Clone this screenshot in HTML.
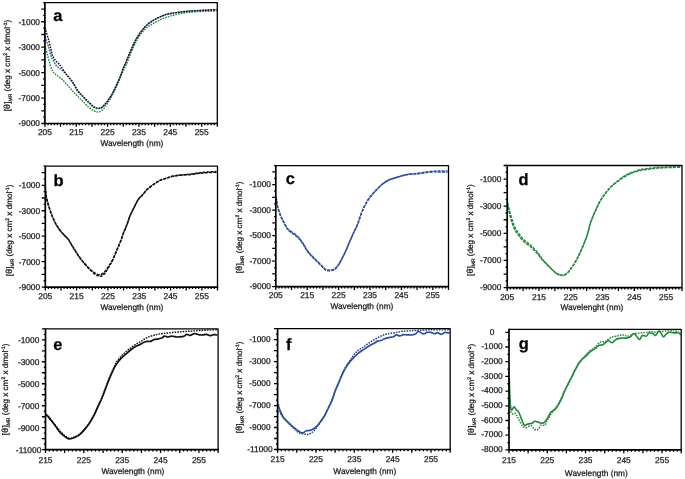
<!DOCTYPE html>
<html><head><meta charset="utf-8"><style>
html,body{margin:0;padding:0;background:#fff;}
body{width:685px;height:479px;overflow:hidden;}
svg{display:block;filter:blur(0.3px);}
.t{font-family:"Liberation Sans", sans-serif;font-size:8.4px;fill:#1a1a1a;stroke:#1a1a1a;stroke-width:0.25px;}
.tt{font-size:8.3px;}
.yt{font-size:8.15px;}
svg text{text-rendering:geometricPrecision;}
.sub{font-size:5px;}
.th{font-size:8.8px;}
.sup{font-size:5px;}
.lt{font-family:"Liberation Sans", sans-serif;font-size:16.4px;font-weight:bold;fill:#000;stroke:#000;stroke-width:0.25px;}
</style></head><body>
<svg width="685" height="479" viewBox="0 0 685 479">
<rect width="685" height="479" fill="#fff"/>
<clipPath id="clipa"><rect x="43.9" y="1.7" width="174.4" height="122.8"/></clipPath>
<path clip-path="url(#clipa)" d="M45.3 46C45.4 46.47 45.48 47.08 45.9 48.8C46.32 50.52 47.07 53.58 47.8 56.3C48.53 59.02 49.47 62.58 50.3 65.1C51.13 67.62 51.77 69.73 52.8 71.4C53.83 73.07 55.05 73.85 56.5 75.1C57.95 76.35 60.25 77.87 61.5 78.9C62.75 79.93 62.75 79.97 64 81.3C65.25 82.63 67.33 85.02 69 86.9C70.67 88.78 72.33 90.82 74 92.6C75.67 94.38 77.33 95.93 79 97.6C80.67 99.27 82.33 100.93 84 102.6C85.67 104.27 87.33 106.25 89 107.6C90.67 108.95 92.53 109.97 94 110.7C95.47 111.43 96.53 112 97.8 112C99.07 112 100.33 111.63 101.6 110.7C102.87 109.77 103.93 108.38 105.4 106.4C106.87 104.42 108.73 101.73 110.4 98.8C112.07 95.87 113.95 91.93 115.4 88.8C116.85 85.67 117.85 82.92 119.1 80C120.35 77.08 121.7 73.88 122.9 71.3C124.1 68.72 124.48 68.65 126.3 64.5C128.12 60.35 131.5 51.32 133.8 46.4C136.1 41.48 137.8 38.25 140.1 35C142.4 31.75 145.1 28.98 147.6 26.9C150.1 24.82 152.6 23.85 155.1 22.5C157.6 21.15 160.2 19.83 162.6 18.8C165 17.77 167.43 16.97 169.5 16.3C171.57 15.63 172.42 15.38 175 14.8C177.58 14.22 181.23 13.33 185 12.8C188.77 12.27 192.35 11.9 197.6 11.6C202.85 11.3 213.35 11.1 216.5 11" fill="none" stroke="#23873f" stroke-width="1.45" stroke-linejoin="round" stroke-linecap="butt" stroke-dasharray="1.6 1.1"/>
<path clip-path="url(#clipa)" d="M45.3 37C45.4 37.42 45.38 37.95 45.9 39.5C46.42 41.05 47.5 43.4 48.4 46.3C49.3 49.2 50.4 54.4 51.3 56.9C52.2 59.4 52.97 59.85 53.8 61.3C54.63 62.75 55.37 64.47 56.3 65.6C57.23 66.73 58.37 67.25 59.4 68.1C60.43 68.95 61.57 69.88 62.5 70.7C63.43 71.52 64.05 71.98 65 73C65.95 74.02 67.15 75.53 68.2 76.8C69.25 78.07 70.37 79.33 71.3 80.6C72.23 81.87 72.9 82.9 73.8 84.4C74.7 85.9 75.67 88 76.7 89.6C77.73 91.2 78.88 92.72 80 94C81.12 95.28 82.28 96.18 83.4 97.3C84.52 98.42 85.58 99.58 86.7 100.7C87.82 101.82 88.98 102.95 90.1 104C91.22 105.05 92.42 106.28 93.4 107C94.38 107.72 95.05 108.05 96 108.3C96.95 108.55 98.17 108.62 99.1 108.5C100.03 108.38 100.55 108.38 101.6 107.6C102.65 106.82 104.15 105.27 105.4 103.8C106.65 102.33 107.85 100.67 109.1 98.8C110.35 96.93 111.65 94.9 112.9 92.6C114.15 90.3 115.35 87.72 116.6 85C117.85 82.28 119.25 79.22 120.4 76.3C121.55 73.38 122.73 69.47 123.5 67.5C124.27 65.53 124.12 66.57 125 64.5C125.88 62.43 127.53 58.12 128.8 55.1C130.07 52.08 131.35 49.12 132.6 46.4C133.85 43.68 134.85 41.32 136.3 38.8C137.75 36.28 139.42 33.7 141.3 31.3C143.18 28.9 145.5 26.28 147.6 24.4C149.7 22.52 151.82 21.25 153.9 20C155.98 18.75 158.03 17.83 160.1 16.9C162.17 15.97 164.23 15.02 166.3 14.4C168.37 13.78 170.42 13.55 172.5 13.2C174.58 12.85 176.7 12.58 178.8 12.3C180.9 12.02 183.02 11.72 185.1 11.5C187.18 11.28 189.22 11.15 191.3 11C193.38 10.85 195.5 10.72 197.6 10.6C199.7 10.48 201.82 10.4 203.9 10.3C205.98 10.2 208 10.12 210.1 10C212.2 9.88 215.43 9.67 216.5 9.6" fill="none" stroke="#2f4f9c" stroke-width="1.45" stroke-linejoin="round" stroke-linecap="butt" stroke-dasharray="1.6 1.1"/>
<path clip-path="url(#clipa)" d="M45.3 28C45.42 28.5 45.38 28.78 46 31C46.62 33.22 48.17 38.22 49 41.3C49.83 44.38 50.42 47.12 51 49.5C51.58 51.88 51.73 53.75 52.5 55.6C53.27 57.45 54.55 59.23 55.6 60.6C56.65 61.97 57.85 62.75 58.8 63.8C59.75 64.85 60.27 65.45 61.3 66.9C62.33 68.35 63.85 70.93 65 72.5C66.15 74.07 67.15 75.05 68.2 76.3C69.25 77.55 70.37 78.75 71.3 80C72.23 81.25 72.9 82.3 73.8 83.8C74.7 85.3 75.67 87.4 76.7 89C77.73 90.6 78.88 92.12 80 93.4C81.12 94.68 82.28 95.58 83.4 96.7C84.52 97.82 85.58 98.98 86.7 100.1C87.82 101.22 88.98 102.35 90.1 103.4C91.22 104.45 92.42 105.67 93.4 106.4C94.38 107.13 95.05 107.5 96 107.8C96.95 108.1 98.17 108.23 99.1 108.2C100.03 108.17 100.55 108.33 101.6 107.6C102.65 106.87 104.15 105.27 105.4 103.8C106.65 102.33 107.85 100.67 109.1 98.8C110.35 96.93 111.65 94.9 112.9 92.6C114.15 90.3 115.35 87.72 116.6 85C117.85 82.28 119.25 79.22 120.4 76.3C121.55 73.38 122.73 69.47 123.5 67.5C124.27 65.53 124.12 66.57 125 64.5C125.88 62.43 127.53 58.12 128.8 55.1C130.07 52.08 131.35 49.12 132.6 46.4C133.85 43.68 134.85 41.32 136.3 38.8C137.75 36.28 139.42 33.7 141.3 31.3C143.18 28.9 145.5 26.28 147.6 24.4C149.7 22.52 151.82 21.25 153.9 20C155.98 18.75 158.03 17.83 160.1 16.9C162.17 15.97 164.23 15.02 166.3 14.4C168.37 13.78 170.42 13.55 172.5 13.2C174.58 12.85 176.7 12.58 178.8 12.3C180.9 12.02 183.02 11.72 185.1 11.5C187.18 11.28 189.22 11.15 191.3 11C193.38 10.85 195.5 10.72 197.6 10.6C199.7 10.48 201.82 10.4 203.9 10.3C205.98 10.2 208 10.08 210.1 10C212.2 9.92 215.43 9.83 216.5 9.8" fill="none" stroke="#111" stroke-width="1.45" stroke-linejoin="round" stroke-linecap="butt" stroke-dasharray="1.6 1.1"/>
<path d="M44.9 2.7H217.3V123.5" fill="none" stroke="#000" stroke-width="1.3" stroke-linejoin="round"/>
<path d="M44.9 2.05V123.5H217.95" fill="none" stroke="#000" stroke-width="1.7"/>
<path d="M43.2 2.7H44.9M41.3 9.06H44.9M43.2 15.42H44.9M41.3 21.77H44.9M43.2 28.13H44.9M41.3 34.49H44.9M43.2 40.85H44.9M41.3 47.21H44.9M43.2 53.56H44.9M41.3 59.92H44.9M43.2 66.28H44.9M41.3 72.64H44.9M43.2 78.99H44.9M41.3 85.35H44.9M43.2 91.71H44.9M41.3 98.07H44.9M43.2 104.43H44.9M41.3 110.78H44.9M43.2 117.14H44.9M41.3 123.5H44.9M44.9 123.5V126.8M48.03 123.5V125.3M51.17 123.5V125.3M54.3 123.5V125.3M57.44 123.5V125.3M60.57 123.5V126.8M63.71 123.5V125.3M66.84 123.5V125.3M69.98 123.5V125.3M73.11 123.5V125.3M76.25 123.5V126.8M79.38 123.5V125.3M82.51 123.5V125.3M85.65 123.5V125.3M88.78 123.5V125.3M91.92 123.5V126.8M95.05 123.5V125.3M98.19 123.5V125.3M101.32 123.5V125.3M104.46 123.5V125.3M107.59 123.5V126.8M110.73 123.5V125.3M113.86 123.5V125.3M116.99 123.5V125.3M120.13 123.5V125.3M123.26 123.5V126.8M126.4 123.5V125.3M129.53 123.5V125.3M132.67 123.5V125.3M135.8 123.5V125.3M138.94 123.5V126.8M142.07 123.5V125.3M145.21 123.5V125.3M148.34 123.5V125.3M151.47 123.5V125.3M154.61 123.5V126.8M157.74 123.5V125.3M160.88 123.5V125.3M164.01 123.5V125.3M167.15 123.5V125.3M170.28 123.5V126.8M173.42 123.5V125.3M176.55 123.5V125.3M179.69 123.5V125.3M182.82 123.5V125.3M185.95 123.5V126.8M189.09 123.5V125.3M192.22 123.5V125.3M195.36 123.5V125.3M198.49 123.5V125.3M201.63 123.5V126.8M204.76 123.5V125.3M207.9 123.5V125.3M211.03 123.5V125.3M214.17 123.5V125.3M217.3 123.5V126.8" stroke="#000" stroke-width="1.3" fill="none"/>
<text x="29.3" y="24.67" text-anchor="middle" class="t">-1000</text>
<text x="29.3" y="50.11" text-anchor="middle" class="t">-3000</text>
<text x="29.3" y="75.54" text-anchor="middle" class="t">-5000</text>
<text x="29.3" y="100.97" text-anchor="middle" class="t">-7000</text>
<text x="29.3" y="126.4" text-anchor="middle" class="t">-9000</text>
<text x="44.9" y="135" text-anchor="middle" class="t">205</text>
<text x="76.25" y="135" text-anchor="middle" class="t">215</text>
<text x="107.59" y="135" text-anchor="middle" class="t">225</text>
<text x="138.94" y="135" text-anchor="middle" class="t">235</text>
<text x="170.28" y="135" text-anchor="middle" class="t">245</text>
<text x="201.63" y="135" text-anchor="middle" class="t">255</text>
<text x="131.9" y="146.4" text-anchor="middle" class="t tt">Wavelength (nm)</text>
<text transform="translate(9.6 65.5) rotate(-90)" text-anchor="middle" class="t yt">[<tspan class="th" dx="0.2">&#952;</tspan><tspan dx="0.2">]</tspan><tspan class="sub" dy="2.2">MR</tspan><tspan dy="-2.2"> (deg x cm</tspan><tspan class="sup" dy="-2.8">2</tspan><tspan dy="2.8"> x dmol</tspan><tspan class="sup" dy="-2.8">-1</tspan><tspan dy="2.8">)</tspan></text>
<text x="53.3" y="20.8" class="lt">a</text>
<clipPath id="clipb"><rect x="44.3" y="165.2" width="174.2" height="122.9"/></clipPath>
<path clip-path="url(#clipb)" d="M45.3 186C45.33 186.67 45.32 188.08 45.5 190C45.68 191.92 45.93 195 46.4 197.5C46.87 200 47.57 202.48 48.3 205C49.03 207.52 49.97 210.3 50.8 212.6C51.63 214.9 52.37 216.72 53.3 218.8C54.23 220.88 55.15 223 56.4 225.1C57.65 227.2 59.45 229.7 60.8 231.4C62.15 233.1 63.25 234 64.5 235.3C65.75 236.6 67.13 237.7 68.3 239.2C69.47 240.7 70.33 242.4 71.5 244.3C72.67 246.2 73.83 248.3 75.3 250.6C76.77 252.9 78.63 255.82 80.3 258.1C81.97 260.38 83.63 262.38 85.3 264.3C86.97 266.22 88.83 268.23 90.3 269.6C91.77 270.97 92.85 271.68 94.1 272.5C95.35 273.32 96.55 274.2 97.8 274.5C99.05 274.8 100.33 274.88 101.6 274.3C102.87 273.72 104.15 272.45 105.4 271C106.65 269.55 107.85 267.55 109.1 265.6C110.35 263.65 111.65 261.8 112.9 259.3C114.15 256.8 115.35 253.52 116.6 250.6C117.85 247.68 119.25 244.73 120.4 241.8C121.55 238.87 122.42 235.83 123.5 233C124.58 230.17 125.82 227.67 126.9 224.8C127.98 221.93 129.07 218.15 130 215.8C130.93 213.45 131.67 212.38 132.5 210.7C133.33 209.02 134.27 207.18 135 205.7C135.73 204.22 136.27 202.95 136.9 201.8C137.53 200.65 137.97 199.83 138.8 198.8C139.63 197.77 140.87 196.75 141.9 195.6C142.93 194.45 144.05 193 145 191.9C145.95 190.8 146.12 190.28 147.6 189C149.08 187.72 151.82 185.65 153.9 184.2C155.98 182.75 158.03 181.3 160.1 180.3C162.17 179.3 164.23 178.87 166.3 178.2C168.37 177.53 170.42 176.78 172.5 176.3C174.58 175.82 176.7 175.55 178.8 175.3C180.9 175.05 183.02 174.95 185.1 174.8C187.18 174.65 189.22 174.62 191.3 174.4C193.38 174.18 195.5 173.75 197.6 173.5C199.7 173.25 201.82 173.07 203.9 172.9C205.98 172.73 208 172.62 210.1 172.5C212.2 172.38 215.43 172.25 216.5 172.2" fill="none" stroke="#111" stroke-width="1.5" stroke-linejoin="round" stroke-linecap="butt" stroke-dasharray="3.2 1.0"/>
<path clip-path="url(#clipb)" d="M45.3 187C45.37 187.67 45.47 189.08 45.7 191C45.93 192.92 46.18 196 46.7 198.5C47.22 201 48.03 203.52 48.8 206C49.57 208.48 50.47 211.13 51.3 213.4C52.13 215.67 52.85 217.53 53.8 219.6C54.75 221.67 55.75 223.75 57 225.8C58.25 227.85 59.97 230.22 61.3 231.9C62.63 233.58 63.78 234.58 65 235.9C66.22 237.22 67.52 238.28 68.6 239.8C69.68 241.32 70.38 243.1 71.5 245C72.62 246.9 73.83 248.93 75.3 251.2C76.77 253.47 78.63 256.33 80.3 258.6C81.97 260.87 83.63 262.9 85.3 264.8C86.97 266.7 88.83 268.53 90.3 270C91.77 271.47 92.85 272.63 94.1 273.6C95.35 274.57 96.55 275.4 97.8 275.8C99.05 276.2 100.33 276.53 101.6 276C102.87 275.47 104.15 274.17 105.4 272.6C106.65 271.03 107.85 268.73 109.1 266.6C110.35 264.47 111.65 262.43 112.9 259.8C114.15 257.17 115.35 253.8 116.6 250.8C117.85 247.8 119.25 244.77 120.4 241.8C121.55 238.83 122.42 235.83 123.5 233C124.58 230.17 125.82 227.67 126.9 224.8C127.98 221.93 129.07 218.15 130 215.8C130.93 213.45 131.67 212.38 132.5 210.7C133.33 209.02 134.27 207.18 135 205.7C135.73 204.22 136.27 202.95 136.9 201.8C137.53 200.65 137.97 199.83 138.8 198.8C139.63 197.77 140.87 196.75 141.9 195.6C142.93 194.45 144.05 193 145 191.9C145.95 190.8 146.12 190.28 147.6 189C149.08 187.72 151.82 185.65 153.9 184.2C155.98 182.75 158.03 181.3 160.1 180.3C162.17 179.3 164.23 178.87 166.3 178.2C168.37 177.53 170.42 176.78 172.5 176.3C174.58 175.82 176.7 175.58 178.8 175.3C180.9 175.02 183.02 174.82 185.1 174.6C187.18 174.38 189.22 174.27 191.3 174C193.38 173.73 195.5 173.28 197.6 173C199.7 172.72 201.82 172.5 203.9 172.3C205.98 172.1 208 171.93 210.1 171.8C212.2 171.67 215.43 171.55 216.5 171.5" fill="none" stroke="#111" stroke-width="1.4" stroke-linejoin="round" stroke-linecap="butt" stroke-dasharray="2.8 1.2"/>
<path d="M45.3 166.2H217.5V287.1" fill="none" stroke="#000" stroke-width="1.3" stroke-linejoin="round"/>
<path d="M45.3 165.55V287.1H218.15" fill="none" stroke="#000" stroke-width="1.7"/>
<path d="M43.6 166.2H45.3M41.7 172.56H45.3M43.6 178.93H45.3M41.7 185.29H45.3M43.6 191.65H45.3M41.7 198.02H45.3M43.6 204.38H45.3M41.7 210.74H45.3M43.6 217.11H45.3M41.7 223.47H45.3M43.6 229.83H45.3M41.7 236.19H45.3M43.6 242.56H45.3M41.7 248.92H45.3M43.6 255.28H45.3M41.7 261.65H45.3M43.6 268.01H45.3M41.7 274.37H45.3M43.6 280.74H45.3M41.7 287.1H45.3M45.3 287.1V290.4M48.43 287.1V288.9M51.56 287.1V288.9M54.69 287.1V288.9M57.82 287.1V288.9M60.95 287.1V290.4M64.09 287.1V288.9M67.22 287.1V288.9M70.35 287.1V288.9M73.48 287.1V288.9M76.61 287.1V290.4M79.74 287.1V288.9M82.87 287.1V288.9M86 287.1V288.9M89.13 287.1V288.9M92.26 287.1V290.4M95.39 287.1V288.9M98.53 287.1V288.9M101.66 287.1V288.9M104.79 287.1V288.9M107.92 287.1V290.4M111.05 287.1V288.9M114.18 287.1V288.9M117.31 287.1V288.9M120.44 287.1V288.9M123.57 287.1V290.4M126.7 287.1V288.9M129.83 287.1V288.9M132.97 287.1V288.9M136.1 287.1V288.9M139.23 287.1V290.4M142.36 287.1V288.9M145.49 287.1V288.9M148.62 287.1V288.9M151.75 287.1V288.9M154.88 287.1V290.4M158.01 287.1V288.9M161.14 287.1V288.9M164.27 287.1V288.9M167.41 287.1V288.9M170.54 287.1V290.4M173.67 287.1V288.9M176.8 287.1V288.9M179.93 287.1V288.9M183.06 287.1V288.9M186.19 287.1V290.4M189.32 287.1V288.9M192.45 287.1V288.9M195.58 287.1V288.9M198.71 287.1V288.9M201.85 287.1V290.4M204.98 287.1V288.9M208.11 287.1V288.9M211.24 287.1V288.9M214.37 287.1V288.9M217.5 287.1V290.4" stroke="#000" stroke-width="1.3" fill="none"/>
<text x="29.4" y="188.19" text-anchor="middle" class="t">-1000</text>
<text x="29.4" y="213.64" text-anchor="middle" class="t">-3000</text>
<text x="29.4" y="239.09" text-anchor="middle" class="t">-5000</text>
<text x="29.4" y="264.55" text-anchor="middle" class="t">-7000</text>
<text x="29.4" y="290" text-anchor="middle" class="t">-9000</text>
<text x="45.3" y="298.8" text-anchor="middle" class="t">205</text>
<text x="76.61" y="298.8" text-anchor="middle" class="t">215</text>
<text x="107.92" y="298.8" text-anchor="middle" class="t">225</text>
<text x="139.23" y="298.8" text-anchor="middle" class="t">235</text>
<text x="170.54" y="298.8" text-anchor="middle" class="t">245</text>
<text x="201.85" y="298.8" text-anchor="middle" class="t">255</text>
<text x="131.9" y="310.3" text-anchor="middle" class="t tt">Wavelength (nm)</text>
<text transform="translate(11.6 230.4) rotate(-90)" text-anchor="middle" class="t yt">[<tspan class="th" dx="0.2">&#952;</tspan><tspan dx="0.2">]</tspan><tspan class="sub" dy="2.2">MR</tspan><tspan dy="-2.2"> (deg x cm</tspan><tspan class="sup" dy="-2.8">2</tspan><tspan dy="2.8"> x dmol</tspan><tspan class="sup" dy="-2.8">-1</tspan><tspan dy="2.8">)</tspan></text>
<text x="53.4" y="185.5" class="lt">b</text>
<clipPath id="clipc"><rect x="274.8" y="164.6" width="174.7" height="123.1"/></clipPath>
<path clip-path="url(#clipc)" d="M276 196.5C276.07 196.92 276.22 197.58 276.4 199C276.58 200.42 276.67 202.95 277.1 205C277.53 207.05 278.27 209.2 279 211.3C279.73 213.4 280.55 215.52 281.5 217.6C282.45 219.68 283.65 221.92 284.7 223.8C285.75 225.68 286.45 227.43 287.8 228.9C289.15 230.37 291.13 231.32 292.8 232.6C294.47 233.88 296.77 235.7 297.8 236.6C298.83 237.5 298.17 236.93 299 238C299.83 239.07 301.55 241.12 302.8 243C304.05 244.88 305.25 247.42 306.5 249.3C307.75 251.18 308.83 252.63 310.3 254.3C311.77 255.97 313.63 257.63 315.3 259.3C316.97 260.97 318.83 262.83 320.3 264.3C321.77 265.77 323.05 267.15 324.1 268.1C325.15 269.05 325.57 269.68 326.6 270C327.63 270.32 329.05 270.1 330.3 270C331.55 269.9 332.83 270.13 334.1 269.4C335.37 268.67 336.65 267.28 337.9 265.6C339.15 263.92 340.35 261.6 341.6 259.3C342.85 257 344.15 254.52 345.4 251.8C346.65 249.08 347.75 246.13 349.1 243C350.45 239.87 352.1 236.08 353.5 233C354.9 229.92 356.3 227.48 357.5 224.5C358.7 221.52 359.55 218.12 360.7 215.1C361.85 212.08 363.05 209.12 364.4 206.4C365.75 203.68 367.02 201.32 368.8 198.8C370.58 196.28 373 193.6 375.1 191.3C377.2 189 379.32 186.77 381.4 185C383.48 183.23 385.52 181.83 387.6 180.7C389.68 179.57 391.62 178.98 393.9 178.2C396.18 177.42 399.03 176.63 401.3 176C403.57 175.37 405.42 174.73 407.5 174.4C409.58 174.07 411.7 174.15 413.8 174C415.9 173.85 418.02 173.75 420.1 173.5C422.18 173.25 424.22 172.77 426.3 172.5C428.38 172.23 430.5 172 432.6 171.9C434.7 171.8 436.42 171.9 438.9 171.9C441.38 171.9 446.07 171.9 447.5 171.9" fill="none" stroke="#2f4f9c" stroke-width="1.5" stroke-linejoin="round" stroke-linecap="butt" stroke-dasharray="3.2 1.0"/>
<path clip-path="url(#clipc)" d="M276 197.5C276.1 197.92 276.35 198.5 276.6 200C276.85 201.5 277.02 204.33 277.5 206.5C277.98 208.67 278.75 210.92 279.5 213C280.25 215.08 281.08 217 282 219C282.92 221 284 223.2 285 225C286 226.8 286.7 228.37 288 229.8C289.3 231.23 291.17 232.33 292.8 233.6C294.43 234.87 296.77 236.53 297.8 237.4C298.83 238.27 298.17 237.77 299 238.8C299.83 239.83 301.55 241.77 302.8 243.6C304.05 245.43 305.25 247.93 306.5 249.8C307.75 251.67 308.83 253.13 310.3 254.8C311.77 256.47 313.63 258.13 315.3 259.8C316.97 261.47 318.83 263.32 320.3 264.8C321.77 266.28 323.05 267.73 324.1 268.7C325.15 269.67 325.57 270.28 326.6 270.6C327.63 270.92 329.05 270.73 330.3 270.6C331.55 270.47 332.83 270.6 334.1 269.8C335.37 269 336.65 267.55 337.9 265.8C339.15 264.05 340.35 261.63 341.6 259.3C342.85 256.97 344.15 254.52 345.4 251.8C346.65 249.08 347.75 246.13 349.1 243C350.45 239.87 352.1 236.08 353.5 233C354.9 229.92 356.3 227.48 357.5 224.5C358.7 221.52 359.55 218.12 360.7 215.1C361.85 212.08 363.05 209.12 364.4 206.4C365.75 203.68 367.02 201.32 368.8 198.8C370.58 196.28 373 193.6 375.1 191.3C377.2 189 379.32 186.77 381.4 185C383.48 183.23 385.52 181.83 387.6 180.7C389.68 179.57 391.62 178.98 393.9 178.2C396.18 177.42 399.03 176.63 401.3 176C403.57 175.37 405.42 174.77 407.5 174.4C409.58 174.03 411.7 174.03 413.8 173.8C415.9 173.57 418.02 173.3 420.1 173C422.18 172.7 424.22 172.3 426.3 172C428.38 171.7 430.5 171.37 432.6 171.2C434.7 171.03 436.42 171.03 438.9 171C441.38 170.97 446.07 171 447.5 171" fill="none" stroke="#2f4f9c" stroke-width="1.5" stroke-linejoin="round" stroke-linecap="butt" stroke-dasharray="2.8 1.2"/>
<path d="M275.8 165.6H448.5V286.7" fill="none" stroke="#000" stroke-width="1.3" stroke-linejoin="round"/>
<path d="M275.8 164.95V286.7H449.15" fill="none" stroke="#000" stroke-width="1.7"/>
<path d="M274.1 165.6H275.8M272.2 171.97H275.8M274.1 178.35H275.8M272.2 184.72H275.8M274.1 191.09H275.8M272.2 197.47H275.8M274.1 203.84H275.8M272.2 210.22H275.8M274.1 216.59H275.8M272.2 222.96H275.8M274.1 229.34H275.8M272.2 235.71H275.8M274.1 242.08H275.8M272.2 248.46H275.8M274.1 254.83H275.8M272.2 261.21H275.8M274.1 267.58H275.8M272.2 273.95H275.8M274.1 280.33H275.8M272.2 286.7H275.8M275.8 286.7V290M278.94 286.7V288.5M282.08 286.7V288.5M285.22 286.7V288.5M288.36 286.7V288.5M291.5 286.7V290M294.64 286.7V288.5M297.78 286.7V288.5M300.92 286.7V288.5M304.06 286.7V288.5M307.2 286.7V290M310.34 286.7V288.5M313.48 286.7V288.5M316.62 286.7V288.5M319.76 286.7V288.5M322.9 286.7V290M326.04 286.7V288.5M329.18 286.7V288.5M332.32 286.7V288.5M335.46 286.7V288.5M338.6 286.7V290M341.74 286.7V288.5M344.88 286.7V288.5M348.02 286.7V288.5M351.16 286.7V288.5M354.3 286.7V290M357.44 286.7V288.5M360.58 286.7V288.5M363.72 286.7V288.5M366.86 286.7V288.5M370 286.7V290M373.14 286.7V288.5M376.28 286.7V288.5M379.42 286.7V288.5M382.56 286.7V288.5M385.7 286.7V290M388.84 286.7V288.5M391.98 286.7V288.5M395.12 286.7V288.5M398.26 286.7V288.5M401.4 286.7V290M404.54 286.7V288.5M407.68 286.7V288.5M410.82 286.7V288.5M413.96 286.7V288.5M417.1 286.7V290M420.24 286.7V288.5M423.38 286.7V288.5M426.52 286.7V288.5M429.66 286.7V288.5M432.8 286.7V290M435.94 286.7V288.5M439.08 286.7V288.5M442.22 286.7V288.5M445.36 286.7V288.5M448.5 286.7V290" stroke="#000" stroke-width="1.3" fill="none"/>
<text x="260.3" y="187.12" text-anchor="middle" class="t">-1000</text>
<text x="260.3" y="212.62" text-anchor="middle" class="t">-3000</text>
<text x="260.3" y="238.11" text-anchor="middle" class="t">-5000</text>
<text x="260.3" y="263.61" text-anchor="middle" class="t">-7000</text>
<text x="260.3" y="289.1" text-anchor="middle" class="t">-9000</text>
<text x="275.8" y="298" text-anchor="middle" class="t">205</text>
<text x="307.2" y="298" text-anchor="middle" class="t">215</text>
<text x="338.6" y="298" text-anchor="middle" class="t">225</text>
<text x="370" y="298" text-anchor="middle" class="t">235</text>
<text x="401.4" y="298" text-anchor="middle" class="t">245</text>
<text x="432.8" y="298" text-anchor="middle" class="t">255</text>
<text x="361.9" y="308.9" text-anchor="middle" class="t tt">Wavelength (nm)</text>
<text transform="translate(241.8 227.3) rotate(-90)" text-anchor="middle" class="t yt">[<tspan class="th" dx="0.2">&#952;</tspan><tspan dx="0.2">]</tspan><tspan class="sub" dy="2.2">MR</tspan><tspan dy="-2.2"> (deg x cm</tspan><tspan class="sup" dy="-2.8">2</tspan><tspan dy="2.8"> x dmol</tspan><tspan class="sup" dy="-2.8">-1</tspan><tspan dy="2.8">)</tspan></text>
<text x="285.7" y="183.8" class="lt">c</text>
<clipPath id="clipd"><rect x="506.2" y="164.5" width="176.8" height="124.1"/></clipPath>
<path clip-path="url(#clipd)" d="M507.5 202.5C507.57 202.92 507.68 203.75 507.9 205C508.12 206.25 508.45 208.25 508.8 210C509.15 211.75 509.52 213.58 510 215.5C510.48 217.42 511.13 219.67 511.7 221.5C512.27 223.33 512.7 224.83 513.4 226.5C514.1 228.17 514.93 229.92 515.9 231.5C516.87 233.08 518.1 234.53 519.2 236C520.3 237.47 521.25 239 522.5 240.3C523.75 241.6 525.3 242.68 526.7 243.8C528.1 244.92 529.65 245.92 530.9 247C532.15 248.08 532.95 249.03 534.2 250.3C535.45 251.57 537.22 253.18 538.4 254.6C539.58 256.02 539.98 257.27 541.3 258.8C542.62 260.33 544.63 262.13 546.3 263.8C547.97 265.47 549.63 267.23 551.3 268.8C552.97 270.37 554.63 272.15 556.3 273.2C557.97 274.25 559.83 274.88 561.3 275.1C562.77 275.32 563.85 275.12 565.1 274.5C566.35 273.88 567.55 272.77 568.8 271.4C570.05 270.03 571.33 268.18 572.6 266.3C573.87 264.42 575.15 262.38 576.4 260.1C577.65 257.82 578.85 255.32 580.1 252.6C581.35 249.88 582.65 246.93 583.9 243.8C585.15 240.67 586.58 237.02 587.6 233.8C588.62 230.58 589.18 227.2 590 224.5C590.82 221.8 591.45 220.2 592.5 217.6C593.55 215 595.05 211.62 596.3 208.9C597.55 206.18 598.53 203.82 600 201.3C601.47 198.78 603.42 196.08 605.1 193.8C606.78 191.52 608.23 189.48 610.1 187.6C611.97 185.72 614.22 184.13 616.3 182.5C618.38 180.87 620.3 179.25 622.6 177.8C624.9 176.35 627.6 174.9 630.1 173.8C632.6 172.7 635.32 171.87 637.6 171.2C639.88 170.53 641.72 170.17 643.8 169.8C645.88 169.43 648.02 169.28 650.1 169C652.18 168.72 654.22 168.3 656.3 168.1C658.38 167.9 660.5 167.9 662.6 167.8C664.7 167.7 665.92 167.58 668.9 167.5C671.88 167.42 678.57 167.33 680.5 167.3" fill="none" stroke="#23873f" stroke-width="1.5" stroke-linejoin="round" stroke-linecap="butt" stroke-dasharray="3.2 1.0"/>
<path clip-path="url(#clipd)" d="M507.6 203.5C507.7 203.92 507.9 204.83 508.2 206C508.5 207.17 508.97 208.97 509.4 210.5C509.83 212.03 510.27 213.45 510.8 215.2C511.33 216.95 512.02 219.23 512.6 221C513.18 222.77 513.6 224.2 514.3 225.8C515 227.4 515.83 229.07 516.8 230.6C517.77 232.13 519.02 233.57 520.1 235C521.18 236.43 522.07 237.93 523.3 239.2C524.53 240.47 526.12 241.47 527.5 242.6C528.88 243.73 530.35 244.83 531.6 246C532.85 247.17 533.77 248.23 535 249.6C536.23 250.97 537.87 252.73 539 254.2C540.13 255.67 540.58 256.83 541.8 258.4C543.02 259.97 544.72 261.87 546.3 263.6C547.88 265.33 549.63 267.17 551.3 268.8C552.97 270.43 554.63 272.3 556.3 273.4C557.97 274.5 559.83 275.17 561.3 275.4C562.77 275.63 563.85 275.43 565.1 274.8C566.35 274.17 567.55 273.02 568.8 271.6C570.05 270.18 571.33 268.22 572.6 266.3C573.87 264.38 575.15 262.38 576.4 260.1C577.65 257.82 578.85 255.32 580.1 252.6C581.35 249.88 582.65 246.93 583.9 243.8C585.15 240.67 586.58 237.02 587.6 233.8C588.62 230.58 589.18 227.2 590 224.5C590.82 221.8 591.45 220.2 592.5 217.6C593.55 215 595.05 211.62 596.3 208.9C597.55 206.18 598.53 203.82 600 201.3C601.47 198.78 603.42 196.08 605.1 193.8C606.78 191.52 608.23 189.57 610.1 187.6C611.97 185.63 614.22 183.77 616.3 182C618.38 180.23 620.3 178.5 622.6 177C624.9 175.5 627.6 174.1 630.1 173C632.6 171.9 635.32 171.07 637.6 170.4C639.88 169.73 641.72 169.37 643.8 169C645.88 168.63 648.02 168.45 650.1 168.2C652.18 167.95 654.22 167.67 656.3 167.5C658.38 167.33 660.5 167.28 662.6 167.2C664.7 167.12 665.92 167.07 668.9 167C671.88 166.93 678.57 166.83 680.5 166.8" fill="none" stroke="#23873f" stroke-width="1.4" stroke-linejoin="round" stroke-linecap="butt" stroke-dasharray="2.8 1.2"/>
<path d="M507.2 165.5H682V287.6" fill="none" stroke="#000" stroke-width="1.3" stroke-linejoin="round"/>
<path d="M507.2 164.85V287.6H682.65" fill="none" stroke="#000" stroke-width="1.7"/>
<path d="M503.6 165.5H507.2M505.5 172.28H507.2M503.6 179.07H507.2M505.5 185.85H507.2M503.6 192.63H507.2M505.5 199.42H507.2M503.6 206.2H507.2M505.5 212.98H507.2M503.6 219.77H507.2M505.5 226.55H507.2M503.6 233.33H507.2M505.5 240.12H507.2M503.6 246.9H507.2M505.5 253.68H507.2M503.6 260.47H507.2M505.5 267.25H507.2M503.6 274.03H507.2M505.5 280.82H507.2M503.6 287.6H507.2M507.2 287.6V290.9M510.38 287.6V289.4M513.56 287.6V289.4M516.73 287.6V289.4M519.91 287.6V289.4M523.09 287.6V290.9M526.27 287.6V289.4M529.45 287.6V289.4M532.63 287.6V289.4M535.8 287.6V289.4M538.98 287.6V290.9M542.16 287.6V289.4M545.34 287.6V289.4M548.52 287.6V289.4M551.69 287.6V289.4M554.87 287.6V290.9M558.05 287.6V289.4M561.23 287.6V289.4M564.41 287.6V289.4M567.59 287.6V289.4M570.76 287.6V290.9M573.94 287.6V289.4M577.12 287.6V289.4M580.3 287.6V289.4M583.48 287.6V289.4M586.65 287.6V290.9M589.83 287.6V289.4M593.01 287.6V289.4M596.19 287.6V289.4M599.37 287.6V289.4M602.55 287.6V290.9M605.72 287.6V289.4M608.9 287.6V289.4M612.08 287.6V289.4M615.26 287.6V289.4M618.44 287.6V290.9M621.61 287.6V289.4M624.79 287.6V289.4M627.97 287.6V289.4M631.15 287.6V289.4M634.33 287.6V290.9M637.51 287.6V289.4M640.68 287.6V289.4M643.86 287.6V289.4M647.04 287.6V289.4M650.22 287.6V290.9M653.4 287.6V289.4M656.57 287.6V289.4M659.75 287.6V289.4M662.93 287.6V289.4M666.11 287.6V290.9M669.29 287.6V289.4M672.47 287.6V289.4M675.64 287.6V289.4M678.82 287.6V289.4M682 287.6V290.9" stroke="#000" stroke-width="1.3" fill="none"/>
<text x="490.6" y="181.57" text-anchor="middle" class="t">-1000</text>
<text x="490.6" y="208.7" text-anchor="middle" class="t">-3000</text>
<text x="490.6" y="235.83" text-anchor="middle" class="t">-5000</text>
<text x="490.6" y="262.97" text-anchor="middle" class="t">-7000</text>
<text x="490.6" y="290.1" text-anchor="middle" class="t">-9000</text>
<text x="507.2" y="299.7" text-anchor="middle" class="t">205</text>
<text x="538.98" y="299.7" text-anchor="middle" class="t">215</text>
<text x="570.76" y="299.7" text-anchor="middle" class="t">225</text>
<text x="602.55" y="299.7" text-anchor="middle" class="t">235</text>
<text x="634.33" y="299.7" text-anchor="middle" class="t">245</text>
<text x="666.11" y="299.7" text-anchor="middle" class="t">255</text>
<text x="591.9" y="310.3" text-anchor="middle" class="t tt">Wavelenght (nm)</text>
<text transform="translate(472.8 230.2) rotate(-90)" text-anchor="middle" class="t yt">[<tspan class="th" dx="0.2">&#952;</tspan><tspan dx="0.2">]</tspan><tspan class="sub" dy="2.2">MR</tspan><tspan dy="-2.2"> (deg x cm</tspan><tspan class="sup" dy="-2.8">2</tspan><tspan dy="2.8"> x dmol</tspan><tspan class="sup" dy="-2.8">-1</tspan><tspan dy="2.8">)</tspan></text>
<text x="518.5" y="185.2" class="lt">d</text>
<clipPath id="clipe"><rect x="44.5" y="327.8" width="174.6" height="122.9"/></clipPath>
<path clip-path="url(#clipe)" d="M45.9 414.4C46.42 414.87 47.85 415.93 49 417.2C50.15 418.47 51.55 420.43 52.8 422C54.05 423.57 55.25 425.03 56.5 426.6C57.75 428.17 58.93 429.9 60.3 431.4C61.67 432.9 63.23 434.43 64.7 435.6C66.17 436.77 67.53 438.13 69.1 438.4C70.67 438.67 72.43 437.83 74.1 437.2C75.77 436.57 77.43 435.87 79.1 434.6C80.77 433.33 82.43 431.5 84.1 429.6C85.77 427.7 87.43 425.72 89.1 423.2C90.77 420.68 92.53 417.53 94.1 414.5C95.67 411.47 97.3 407.58 98.5 405C99.7 402.42 100.22 401.58 101.3 399C102.38 396.42 103.75 392.78 105 389.5C106.25 386.22 107.53 382.5 108.8 379.3C110.07 376.1 111.4 373.02 112.6 370.3C113.8 367.58 114.6 365.32 116 363C117.4 360.68 119.12 358.47 121 356.4C122.88 354.33 125.22 352.37 127.3 350.6C129.38 348.83 131.47 347.2 133.5 345.8C135.53 344.4 137.63 343.33 139.5 342.2C141.37 341.07 143.07 339.92 144.7 339C146.33 338.08 147.75 337.32 149.3 336.7C150.85 336.08 152.43 335.73 154 335.3C155.57 334.87 157.13 334.42 158.7 334.1C160.27 333.78 161.65 333.6 163.4 333.4C165.15 333.2 167.27 333.1 169.2 332.9C171.13 332.7 173.05 332.38 175 332.2C176.95 332.02 178.95 331.93 180.9 331.8C182.85 331.67 184.75 331.52 186.7 331.4C188.65 331.28 190.65 331.23 192.6 331.1C194.55 330.97 196.47 330.73 198.4 330.6C200.33 330.47 202.25 330.42 204.2 330.3C206.15 330.18 207.92 329.97 210.1 329.9C212.28 329.83 216.1 329.9 217.3 329.9" fill="none" stroke="#111" stroke-width="1.45" stroke-linejoin="round" stroke-linecap="butt" stroke-dasharray="1.6 1.1"/>
<path clip-path="url(#clipe)" d="M45.9 414.4C46.42 414.93 47.85 416.23 49 417.6C50.15 418.97 51.55 420.93 52.8 422.6C54.05 424.27 55.25 425.93 56.5 427.6C57.75 429.27 58.93 431.13 60.3 432.6C61.67 434.07 63.23 435.35 64.7 436.4C66.17 437.45 67.53 438.7 69.1 438.9C70.67 439.1 72.43 438.23 74.1 437.6C75.77 436.97 77.43 436.35 79.1 435.1C80.77 433.85 82.43 431.98 84.1 430.1C85.77 428.22 87.43 426.3 89.1 423.8C90.77 421.3 92.53 418.15 94.1 415.1C95.67 412.05 97.3 408.1 98.5 405.5C99.7 402.9 100.22 402.07 101.3 399.5C102.38 396.93 103.75 393.33 105 390.1C106.25 386.87 107.53 383.23 108.8 380.1C110.07 376.97 111.35 373.92 112.6 371.3C113.85 368.68 114.85 366.58 116.3 364.4C117.75 362.22 119.42 360.18 121.3 358.2C123.18 356.22 125.5 354.28 127.6 352.5C129.7 350.72 131.82 348.85 133.9 347.5C135.98 346.15 138.5 345.23 140.1 344.4C141.7 343.57 142.35 343 143.5 342.5C144.65 342 145.83 341.58 147 341.4C148.17 341.22 149.33 341.7 150.5 341.4C151.67 341.1 152.63 340.03 154 339.6C155.37 339.17 157.33 339.1 158.7 338.8C160.07 338.5 161.23 338.25 162.2 337.8C163.17 337.35 163.53 336.23 164.5 336.1C165.47 335.97 166.83 337 168 337C169.17 337 170.33 336.15 171.5 336.1C172.67 336.05 174.02 336.55 175 336.7C175.98 336.85 176.23 337 177.4 337C178.57 337 180.83 336.85 182 336.7C183.17 336.55 183.62 336.5 184.4 336.1C185.18 335.7 185.73 334.4 186.7 334.3C187.67 334.2 189.03 335.58 190.2 335.5C191.37 335.42 192.73 334.08 193.7 333.8C194.67 333.52 195.02 333.62 196 333.8C196.98 333.98 198.42 334.72 199.6 334.9C200.78 335.08 201.93 335 203.1 334.9C204.27 334.8 205.43 334.17 206.6 334.3C207.77 334.43 208.93 335.65 210.1 335.7C211.27 335.75 212.4 334.73 213.6 334.6C214.8 334.47 216.68 334.85 217.3 334.9" fill="none" stroke="#111" stroke-width="1.7" stroke-linejoin="round" stroke-linecap="butt"/>
<path d="M45.5 328.8H218.1V449.7" fill="none" stroke="#000" stroke-width="1.3" stroke-linejoin="round"/>
<path d="M45.5 328.15V449.7H218.75" fill="none" stroke="#000" stroke-width="1.7"/>
<path d="M41.9 328.8H45.5M43.8 334.3H45.5M41.9 339.79H45.5M43.8 345.29H45.5M41.9 350.78H45.5M43.8 356.28H45.5M41.9 361.77H45.5M43.8 367.27H45.5M41.9 372.76H45.5M43.8 378.26H45.5M41.9 383.75H45.5M43.8 389.25H45.5M41.9 394.75H45.5M43.8 400.24H45.5M41.9 405.74H45.5M43.8 411.23H45.5M41.9 416.73H45.5M43.8 422.22H45.5M41.9 427.72H45.5M43.8 433.21H45.5M41.9 438.71H45.5M43.8 444.2H45.5M41.9 449.7H45.5M45.5 449.7V453M49.34 449.7V451.5M53.17 449.7V451.5M57.01 449.7V451.5M60.84 449.7V451.5M64.68 449.7V453M68.51 449.7V451.5M72.35 449.7V451.5M76.18 449.7V451.5M80.02 449.7V451.5M83.86 449.7V453M87.69 449.7V451.5M91.53 449.7V451.5M95.36 449.7V451.5M99.2 449.7V451.5M103.03 449.7V453M106.87 449.7V451.5M110.7 449.7V451.5M114.54 449.7V451.5M118.38 449.7V451.5M122.21 449.7V453M126.05 449.7V451.5M129.88 449.7V451.5M133.72 449.7V451.5M137.55 449.7V451.5M141.39 449.7V453M145.22 449.7V451.5M149.06 449.7V451.5M152.9 449.7V451.5M156.73 449.7V451.5M160.57 449.7V453M164.4 449.7V451.5M168.24 449.7V451.5M172.07 449.7V451.5M175.91 449.7V451.5M179.74 449.7V453M183.58 449.7V451.5M187.42 449.7V451.5M191.25 449.7V451.5M195.09 449.7V451.5M198.92 449.7V453M202.76 449.7V451.5M206.59 449.7V451.5M210.43 449.7V451.5M214.26 449.7V451.5M218.1 449.7V453" stroke="#000" stroke-width="1.3" fill="none"/>
<text x="28.6" y="342.69" text-anchor="middle" class="t">-1000</text>
<text x="28.6" y="364.67" text-anchor="middle" class="t">-3000</text>
<text x="28.6" y="386.65" text-anchor="middle" class="t">-5000</text>
<text x="28.6" y="408.64" text-anchor="middle" class="t">-7000</text>
<text x="28.6" y="430.62" text-anchor="middle" class="t">-9000</text>
<text x="28.6" y="452.6" text-anchor="middle" class="t">-11000</text>
<text x="45.5" y="462.8" text-anchor="middle" class="t">215</text>
<text x="83.86" y="462.8" text-anchor="middle" class="t">225</text>
<text x="122.21" y="462.8" text-anchor="middle" class="t">235</text>
<text x="160.57" y="462.8" text-anchor="middle" class="t">245</text>
<text x="198.92" y="462.8" text-anchor="middle" class="t">255</text>
<text x="132.9" y="473.6" text-anchor="middle" class="t tt">Wavelength (nm)</text>
<text transform="translate(7.7 389.3) rotate(-90)" text-anchor="middle" class="t yt">[<tspan class="th" dx="0.2">&#952;</tspan><tspan dx="0.2">]</tspan><tspan class="sub" dy="2.2">MR</tspan><tspan dy="-2.2"> (deg x cm</tspan><tspan class="sup" dy="-2.8">2</tspan><tspan dy="2.8"> x dmol</tspan><tspan class="sup" dy="-2.8">-1</tspan><tspan dy="2.8">)</tspan></text>
<text x="53.2" y="349.7" class="lt">e</text>
<clipPath id="clipf"><rect x="276.6" y="327.6" width="174.6" height="122.9"/></clipPath>
<path clip-path="url(#clipf)" d="M278.5 411.3C278.82 411.67 279.57 412.38 280.4 413.5C281.23 414.62 282.35 416.58 283.5 418C284.65 419.42 286.05 420.7 287.3 422C288.55 423.3 289.75 424.6 291 425.8C292.25 427 293.53 428.07 294.8 429.2C296.07 430.33 297.13 431.82 298.6 432.6C300.07 433.38 302.15 433.58 303.6 433.9C305.05 434.22 306.05 434.62 307.3 434.5C308.55 434.38 309.85 433.93 311.1 433.2C312.35 432.47 313.75 431.25 314.8 430.1C315.85 428.95 316.35 427.82 317.4 426.3C318.45 424.78 319.85 422.87 321.1 421C322.35 419.13 323.65 417.35 324.9 415.1C326.15 412.85 327.35 410.17 328.6 407.5C329.85 404.83 331.33 401.85 332.4 399.1C333.47 396.35 333.93 393.85 335 391C336.07 388.15 337.55 385 338.8 382C340.05 379 341.25 375.7 342.5 373C343.75 370.3 344.83 368.2 346.3 365.8C347.77 363.4 349.63 360.92 351.3 358.6C352.97 356.28 354.42 353.75 356.3 351.9C358.18 350.05 360.5 348.97 362.6 347.5C364.7 346.03 366.63 344.6 368.9 343.1C371.17 341.6 373.95 339.77 376.2 338.5C378.45 337.23 380.53 336.27 382.4 335.5C384.27 334.73 385.33 334.37 387.4 333.9C389.47 333.43 392.53 333.1 394.8 332.7C397.07 332.3 398.93 331.78 401 331.5C403.07 331.22 405.13 331.15 407.2 331C409.27 330.85 411.33 330.73 413.4 330.6C415.47 330.47 417.53 330.3 419.6 330.2C421.67 330.1 423.73 330.08 425.8 330C427.87 329.92 428.07 329.75 432 329.7C435.93 329.65 446.5 329.7 449.4 329.7" fill="none" stroke="#2a3f7e" stroke-width="1.45" stroke-linejoin="round" stroke-linecap="butt" stroke-dasharray="1.6 1.1"/>
<path clip-path="url(#clipf)" d="M278.3 404C278.33 404.38 278.15 405.08 278.5 406.3C278.85 407.52 279.57 409.42 280.4 411.3C281.23 413.18 282.35 415.93 283.5 417.6C284.65 419.27 286.05 420.05 287.3 421.3C288.55 422.55 289.75 423.95 291 425.1C292.25 426.25 293.65 427.27 294.8 428.2C295.95 429.13 296.85 429.97 297.9 430.7C298.95 431.43 300.15 432.28 301.1 432.6C302.05 432.92 302.77 432.92 303.6 432.6C304.43 432.28 305.07 431.07 306.1 430.7C307.13 430.33 308.55 430.72 309.8 430.4C311.05 430.08 312.33 429.58 313.6 428.8C314.87 428.02 316.15 427.05 317.4 425.7C318.65 424.35 319.85 422.47 321.1 420.7C322.35 418.93 323.65 417.3 324.9 415.1C326.15 412.9 327.35 410.12 328.6 407.5C329.85 404.88 331.33 402.08 332.4 399.4C333.47 396.72 333.93 394.2 335 391.4C336.07 388.6 337.55 385.53 338.8 382.6C340.05 379.67 341.25 376.42 342.5 373.8C343.75 371.18 344.83 369.18 346.3 366.9C347.77 364.62 349.42 362.28 351.3 360.1C353.18 357.92 355.52 355.58 357.6 353.8C359.68 352.02 361.72 350.82 363.8 349.4C365.88 347.98 368.45 346.27 370.1 345.3C371.75 344.33 372.48 344.3 373.7 343.6C374.92 342.9 376.15 341.62 377.4 341.1C378.65 340.58 379.95 340.92 381.2 340.5C382.45 340.08 383.45 339.12 384.9 338.6C386.35 338.08 388.45 337.7 389.9 337.4C391.35 337.1 392.57 337.22 393.6 336.8C394.63 336.38 395.07 335.05 396.1 334.9C397.13 334.75 398.57 335.93 399.8 335.9C401.03 335.87 402.27 334.87 403.5 334.7C404.73 334.53 405.75 334.87 407.2 334.9C408.65 334.93 410.75 335.1 412.2 334.9C413.65 334.7 414.87 334.27 415.9 333.7C416.93 333.13 417.17 331.47 418.4 331.5C419.63 331.53 421.85 333.75 423.3 333.9C424.75 334.05 425.85 332.65 427.1 332.4C428.35 332.15 429.57 332.18 430.8 332.4C432.03 332.62 433.37 333.65 434.5 333.7C435.63 333.75 436.47 332.6 437.6 332.7C438.73 332.8 440.05 334.35 441.3 334.3C442.55 334.25 443.75 332.6 445.1 332.4C446.45 332.2 448.68 332.98 449.4 333.1" fill="none" stroke="#2f4f9c" stroke-width="1.7" stroke-linejoin="round" stroke-linecap="butt"/>
<path d="M277.6 328.6H450.2V449.5" fill="none" stroke="#000" stroke-width="1.3" stroke-linejoin="round"/>
<path d="M277.6 327.95V449.5H450.85" fill="none" stroke="#000" stroke-width="1.7"/>
<path d="M274 328.6H277.6M275.9 334.1H277.6M274 339.59H277.6M275.9 345.09H277.6M274 350.58H277.6M275.9 356.08H277.6M274 361.57H277.6M275.9 367.07H277.6M274 372.56H277.6M275.9 378.06H277.6M274 383.55H277.6M275.9 389.05H277.6M274 394.55H277.6M275.9 400.04H277.6M274 405.54H277.6M275.9 411.03H277.6M274 416.53H277.6M275.9 422.02H277.6M274 427.52H277.6M275.9 433.01H277.6M274 438.51H277.6M275.9 444H277.6M274 449.5H277.6M277.6 449.5V452.8M281.44 449.5V451.3M285.27 449.5V451.3M289.11 449.5V451.3M292.94 449.5V451.3M296.78 449.5V452.8M300.61 449.5V451.3M304.45 449.5V451.3M308.28 449.5V451.3M312.12 449.5V451.3M315.96 449.5V452.8M319.79 449.5V451.3M323.63 449.5V451.3M327.46 449.5V451.3M331.3 449.5V451.3M335.13 449.5V452.8M338.97 449.5V451.3M342.8 449.5V451.3M346.64 449.5V451.3M350.48 449.5V451.3M354.31 449.5V452.8M358.15 449.5V451.3M361.98 449.5V451.3M365.82 449.5V451.3M369.65 449.5V451.3M373.49 449.5V452.8M377.32 449.5V451.3M381.16 449.5V451.3M385 449.5V451.3M388.83 449.5V451.3M392.67 449.5V452.8M396.5 449.5V451.3M400.34 449.5V451.3M404.17 449.5V451.3M408.01 449.5V451.3M411.84 449.5V452.8M415.68 449.5V451.3M419.52 449.5V451.3M423.35 449.5V451.3M427.19 449.5V451.3M431.02 449.5V452.8M434.86 449.5V451.3M438.69 449.5V451.3M442.53 449.5V451.3M446.36 449.5V451.3M450.2 449.5V452.8" stroke="#000" stroke-width="1.3" fill="none"/>
<text x="259.9" y="341.59" text-anchor="middle" class="t">-1000</text>
<text x="259.9" y="363.57" text-anchor="middle" class="t">-3000</text>
<text x="259.9" y="385.55" text-anchor="middle" class="t">-5000</text>
<text x="259.9" y="407.54" text-anchor="middle" class="t">-7000</text>
<text x="259.9" y="429.52" text-anchor="middle" class="t">-9000</text>
<text x="259.9" y="451.5" text-anchor="middle" class="t">-11000</text>
<text x="277.6" y="462.1" text-anchor="middle" class="t">215</text>
<text x="315.96" y="462.1" text-anchor="middle" class="t">225</text>
<text x="354.31" y="462.1" text-anchor="middle" class="t">235</text>
<text x="392.67" y="462.1" text-anchor="middle" class="t">245</text>
<text x="431.02" y="462.1" text-anchor="middle" class="t">255</text>
<text x="364.8" y="473.6" text-anchor="middle" class="t tt">Wavelength (nm)</text>
<text transform="translate(241.8 387.4) rotate(-90)" text-anchor="middle" class="t yt">[<tspan class="th" dx="0.2">&#952;</tspan><tspan dx="0.2">]</tspan><tspan class="sub" dy="2.2">MR</tspan><tspan dy="-2.2"> (deg x cm</tspan><tspan class="sup" dy="-2.8">2</tspan><tspan dy="2.8"> x dmol</tspan><tspan class="sup" dy="-2.8">-1</tspan><tspan dy="2.8">)</tspan></text>
<text x="286.1" y="349.7" class="lt">f</text>
<clipPath id="clipg"><rect x="508" y="328.4" width="174.2" height="122.5"/></clipPath>
<path clip-path="url(#clipg)" d="M509.5 395C509.65 397.5 509.93 406.87 510.4 410C510.87 413.13 511.57 413.27 512.3 413.8C513.03 414.33 514.07 412.88 514.8 413.2C515.53 413.52 515.97 414.55 516.7 415.7C517.43 416.85 518.27 418.43 519.2 420.1C520.13 421.77 521.27 424.45 522.3 425.7C523.33 426.95 524.35 427.5 525.4 427.6C526.45 427.7 527.65 426.62 528.6 426.3C529.55 425.98 530.38 425.48 531.1 425.7C531.82 425.92 532.07 426.87 532.9 427.6C533.73 428.33 535.15 429.9 536.1 430.1C537.05 430.3 537.77 429.63 538.6 428.8C539.43 427.97 540.07 425.72 541.1 425.1C542.13 424.48 543.75 425.93 544.8 425.1C545.85 424.27 546.35 421.98 547.4 420.1C548.45 418.22 549.65 415.9 551.1 413.8C552.55 411.7 554.43 410 556.1 407.5C557.77 405 559.82 401.22 561.1 398.8C562.38 396.38 562.73 395.22 563.8 393C564.87 390.78 566.25 388 567.5 385.5C568.75 383 570.05 380.5 571.3 378C572.55 375.5 573.75 372.92 575 370.5C576.25 368.08 577.53 365.5 578.8 363.5C580.07 361.5 581.35 360 582.6 358.5C583.85 357 585.07 355.83 586.3 354.5C587.53 353.17 588.55 351.7 590 350.5C591.45 349.3 593.28 348.7 595 347.3C596.72 345.9 598.55 343.08 600.3 342.1C602.05 341.12 603.75 342.17 605.5 341.4C607.25 340.63 609.05 338.37 610.8 337.5C612.55 336.63 614.03 336.63 616 336.2C617.97 335.77 620.62 334.9 622.6 334.9C624.58 334.9 626.15 336.37 627.9 336.2C629.65 336.03 631.35 334.42 633.1 333.9C634.85 333.38 636.43 333.32 638.4 333.1C640.37 332.88 642.93 332.85 644.9 332.6C646.87 332.35 648.43 331.67 650.2 331.6C651.97 331.53 653.75 332.2 655.5 332.2C657.25 332.2 658.73 331.82 660.7 331.6C662.67 331.38 665.12 331.02 667.3 330.9C669.48 330.78 671.83 330.78 673.8 330.9C675.77 331.02 678.22 331.48 679.1 331.6" fill="none" stroke="#23873f" stroke-width="1.45" stroke-linejoin="round" stroke-linecap="butt" stroke-dasharray="1.6 1.1"/>
<path clip-path="url(#clipg)" d="M509.3 378C509.38 380.83 509.62 390.5 509.8 395C509.98 399.5 510.1 402.5 510.4 405C510.7 407.5 510.98 409.68 511.6 410C512.22 410.32 513.37 407 514.1 406.9C514.83 406.8 515.27 408.57 516 409.4C516.73 410.23 517.67 410.53 518.5 411.9C519.33 413.27 520.05 415.4 521 417.6C521.95 419.8 523.25 423.97 524.2 425.1C525.15 426.23 525.77 424.65 526.7 424.4C527.63 424.15 528.87 423.8 529.8 423.6C530.73 423.4 531.57 423.58 532.3 423.2C533.03 422.82 533.37 421.52 534.2 421.3C535.03 421.08 535.95 421.58 537.3 421.9C538.65 422.22 541.05 423.2 542.3 423.2C543.55 423.2 543.75 423.05 544.8 421.9C545.85 420.75 547.55 417.97 548.6 416.3C549.65 414.63 550.05 413.05 551.1 411.9C552.15 410.75 553.65 410.65 554.9 409.4C556.15 408.15 557.35 406.48 558.6 404.4C559.85 402.32 561.53 398.87 562.4 396.9C563.27 394.93 562.95 394.57 563.8 392.6C564.65 390.63 566.25 387.6 567.5 385.1C568.75 382.6 570.05 380.1 571.3 377.6C572.55 375.1 573.75 372.5 575 370.1C576.25 367.7 577.53 365.08 578.8 363.2C580.07 361.32 581.35 360.05 582.6 358.8C583.85 357.55 585.05 356.85 586.3 355.7C587.55 354.55 588.65 353.07 590.1 351.9C591.55 350.73 593.53 349.78 595 348.7C596.47 347.62 597.58 346.07 598.9 345.4C600.22 344.73 601.37 345.47 602.9 344.7C604.43 343.93 606.57 341.13 608.1 340.8C609.63 340.47 610.78 342.92 612.1 342.7C613.42 342.48 614.47 340.27 616 339.5C617.53 338.73 619.55 338.33 621.3 338.1C623.05 337.87 624.97 338.32 626.5 338.1C628.03 337.88 629.28 337.57 630.5 336.8C631.72 336.03 632.72 333.5 633.8 333.5C634.88 333.5 636.02 335.8 637 336.8C637.98 337.8 638.82 339.72 639.7 339.5C640.58 339.28 641.22 336.05 642.3 335.5C643.38 334.95 645.1 336.63 646.2 336.2C647.3 335.77 647.8 333.35 648.9 332.9C650 332.45 651.7 333.07 652.8 333.5C653.9 333.93 654.4 335.93 655.5 335.5C656.6 335.07 658.1 330.68 659.4 330.9C660.7 331.12 662.1 336.37 663.3 336.8C664.5 337.23 665.5 334.27 666.6 333.5C667.7 332.73 668.7 332.3 669.9 332.2C671.1 332.1 672.27 332.78 673.8 332.9C675.33 333.02 678 332.57 679.1 332.9C680.2 333.23 680.18 334.57 680.4 334.9" fill="none" stroke="#23873f" stroke-width="1.6" stroke-linejoin="round" stroke-linecap="butt"/>
<path d="M509 329.4H681.2V449.9" fill="none" stroke="#000" stroke-width="1.3" stroke-linejoin="round"/>
<path d="M509 328.75V449.9H681.85" fill="none" stroke="#000" stroke-width="1.7"/>
<path d="M505.4 332.3H509M507.3 339.65H509M505.4 347H509M507.3 354.35H509M505.4 361.7H509M507.3 369.05H509M505.4 376.4H509M507.3 383.75H509M505.4 391.1H509M507.3 398.45H509M505.4 405.8H509M507.3 413.15H509M505.4 420.5H509M507.3 427.85H509M505.4 435.2H509M507.3 442.55H509M505.4 449.9H509M509 449.9V453.2M512.83 449.9V451.7M516.65 449.9V451.7M520.48 449.9V451.7M524.31 449.9V451.7M528.13 449.9V453.2M531.96 449.9V451.7M535.79 449.9V451.7M539.61 449.9V451.7M543.44 449.9V451.7M547.27 449.9V453.2M551.09 449.9V451.7M554.92 449.9V451.7M558.75 449.9V451.7M562.57 449.9V451.7M566.4 449.9V453.2M570.23 449.9V451.7M574.05 449.9V451.7M577.88 449.9V451.7M581.71 449.9V451.7M585.53 449.9V453.2M589.36 449.9V451.7M593.19 449.9V451.7M597.01 449.9V451.7M600.84 449.9V451.7M604.67 449.9V453.2M608.49 449.9V451.7M612.32 449.9V451.7M616.15 449.9V451.7M619.97 449.9V451.7M623.8 449.9V453.2M627.63 449.9V451.7M631.45 449.9V451.7M635.28 449.9V451.7M639.11 449.9V451.7M642.93 449.9V453.2M646.76 449.9V451.7M650.59 449.9V451.7M654.41 449.9V451.7M658.24 449.9V451.7M662.07 449.9V453.2M665.89 449.9V451.7M669.72 449.9V451.7M673.55 449.9V451.7M677.37 449.9V451.7M681.2 449.9V453.2" stroke="#000" stroke-width="1.3" fill="none"/>
<text x="492" y="334.5" text-anchor="middle" class="t">0</text>
<text x="492" y="349.2" text-anchor="middle" class="t">-1000</text>
<text x="492" y="363.9" text-anchor="middle" class="t">-2000</text>
<text x="492" y="378.6" text-anchor="middle" class="t">-3000</text>
<text x="492" y="393.3" text-anchor="middle" class="t">-4000</text>
<text x="492" y="408" text-anchor="middle" class="t">-5000</text>
<text x="492" y="422.7" text-anchor="middle" class="t">-6000</text>
<text x="492" y="437.4" text-anchor="middle" class="t">-7000</text>
<text x="492" y="452.1" text-anchor="middle" class="t">-8000</text>
<text x="509" y="463.3" text-anchor="middle" class="t">215</text>
<text x="547.27" y="463.3" text-anchor="middle" class="t">225</text>
<text x="585.53" y="463.3" text-anchor="middle" class="t">235</text>
<text x="623.8" y="463.3" text-anchor="middle" class="t">245</text>
<text x="662.07" y="463.3" text-anchor="middle" class="t">255</text>
<text x="596.3" y="475.5" text-anchor="middle" class="t tt">Wavelength (nm)</text>
<text transform="translate(473.8 389.5) rotate(-90)" text-anchor="middle" class="t yt">[<tspan class="th" dx="0.2">&#952;</tspan><tspan dx="0.2">]</tspan><tspan class="sub" dy="2.2">MR</tspan><tspan dy="-2.2"> (deg x cm</tspan><tspan class="sup" dy="-2.8">2</tspan><tspan dy="2.8"> x dmol</tspan><tspan class="sup" dy="-2.8">-1</tspan><tspan dy="2.8">)</tspan></text>
<text x="518.8" y="349.2" class="lt">g</text>
</svg>
</body></html>
